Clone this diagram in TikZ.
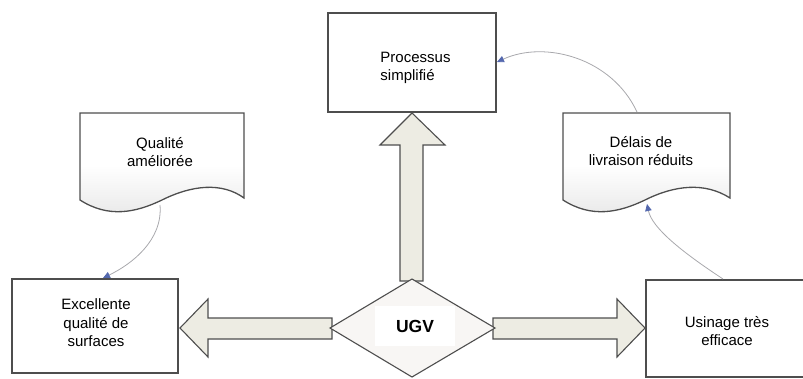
\documentclass[tikz,border=0pt]{standalone}
\usepackage{fontspec}
\setmainfont{Liberation Sans}
\usetikzlibrary{arrows.meta}
\definecolor{edge}{HTML}{4E4E4E}
\definecolor{arrowfill}{HTML}{EDECE3}
\definecolor{diafill}{HTML}{F8F6F4}
\definecolor{linkgray}{HTML}{A8A8AC}
\definecolor{tipblue}{HTML}{5468AE}
\tikzset{
  boxshape/.style={draw=edge, line width=1.3pt, fill=white},
  docshape/.style={draw=edge, line width=1.3pt, top color=white, bottom color=black!9, middle color=white},
  blockarrow/.style={draw=edge, line width=1.1pt, fill=arrowfill, line join=miter},
  label/.style={font=\fontsize{15}{18.5}\selectfont, align=center, inner sep=0pt},
  link/.style={draw=linkgray, line width=0.8pt, -{Triangle[length=7pt,width=6.5pt,color=tipblue]}},
}
\begin{document}
\begin{tikzpicture}[x=1pt,y=-1pt]
\useasboundingbox (0,0) rectangle (803,378);
% boxes
\draw[boxshape] (328,13) rectangle (496,112);
\draw[boxshape] (12,279) rectangle (178,373);
\draw[boxshape] (646,280) rectangle (812,377);
% documents
\draw[docshape] (80,113) -- (80,200) .. controls (108,218) and (135,213) .. (162,200)
  .. controls (192,185) and (222,182) .. (244,198) -- (244,113) -- cycle;
\draw[docshape] (563,113) -- (563,200) .. controls (591,218) and (618,213) .. (645,200)
  .. controls (675,185) and (705,182) .. (730,198) -- (730,113) -- cycle;
% block arrows
\draw[blockarrow] (400,281) -- (400,145) -- (380,145) -- (412,113) -- (445,145) -- (423,145) -- (423,281) -- cycle;
\draw[blockarrow] (332,318) -- (208,318) -- (208,299) -- (180,328) -- (208,357) -- (208,339) -- (332,339) -- cycle;
\draw[blockarrow] (493,318) -- (617,318) -- (617,299) -- (645,328) -- (617,357) -- (617,339) -- (493,339) -- cycle;
% diamond
\draw[draw=edge, line width=1.1pt, fill=diafill, line join=miter] (412,279) -- (495,328) -- (412,377) -- (330,328) -- cycle;
% text nodes
\node[label, align=left] (proc) at (415.5,68) {Processus\\simplifié};
\node[label] (qual) at (160,152) {Qualité\\améliorée};
\node[label] (delai) at (641,151) {Délais de\\livraison réduits};
\node[label] (excel) at (96,323) {Excellente\\qualité de\\surfaces};
\node[label] (usin) at (727,331) {Usinage très\\efficace};
\node[fill=white, minimum width=80pt, minimum height=40pt, inner sep=0pt,
      font=\fontsize{17.5}{20}\selectfont\bfseries] (ugv) at (415,326) {UGV};
% connector anchor points
\coordinate (usintop) at (723,279);
\coordinate (delaibot) at (647,204);
\coordinate (delaitop) at (637,112);
\coordinate (procright) at (497,62);
\coordinate (qualbot) at (160,205);
\coordinate (exceltop) at (103,278);
\draw[link] (usintop) .. controls (682,252) and (652,228) .. (delaibot);
\draw[link] (delaitop) .. controls (612,58) and (545,40) .. (procright);
\draw[link] (qualbot) .. controls (163,240) and (132,264) .. (exceltop);
\end{tikzpicture}
\end{document}
